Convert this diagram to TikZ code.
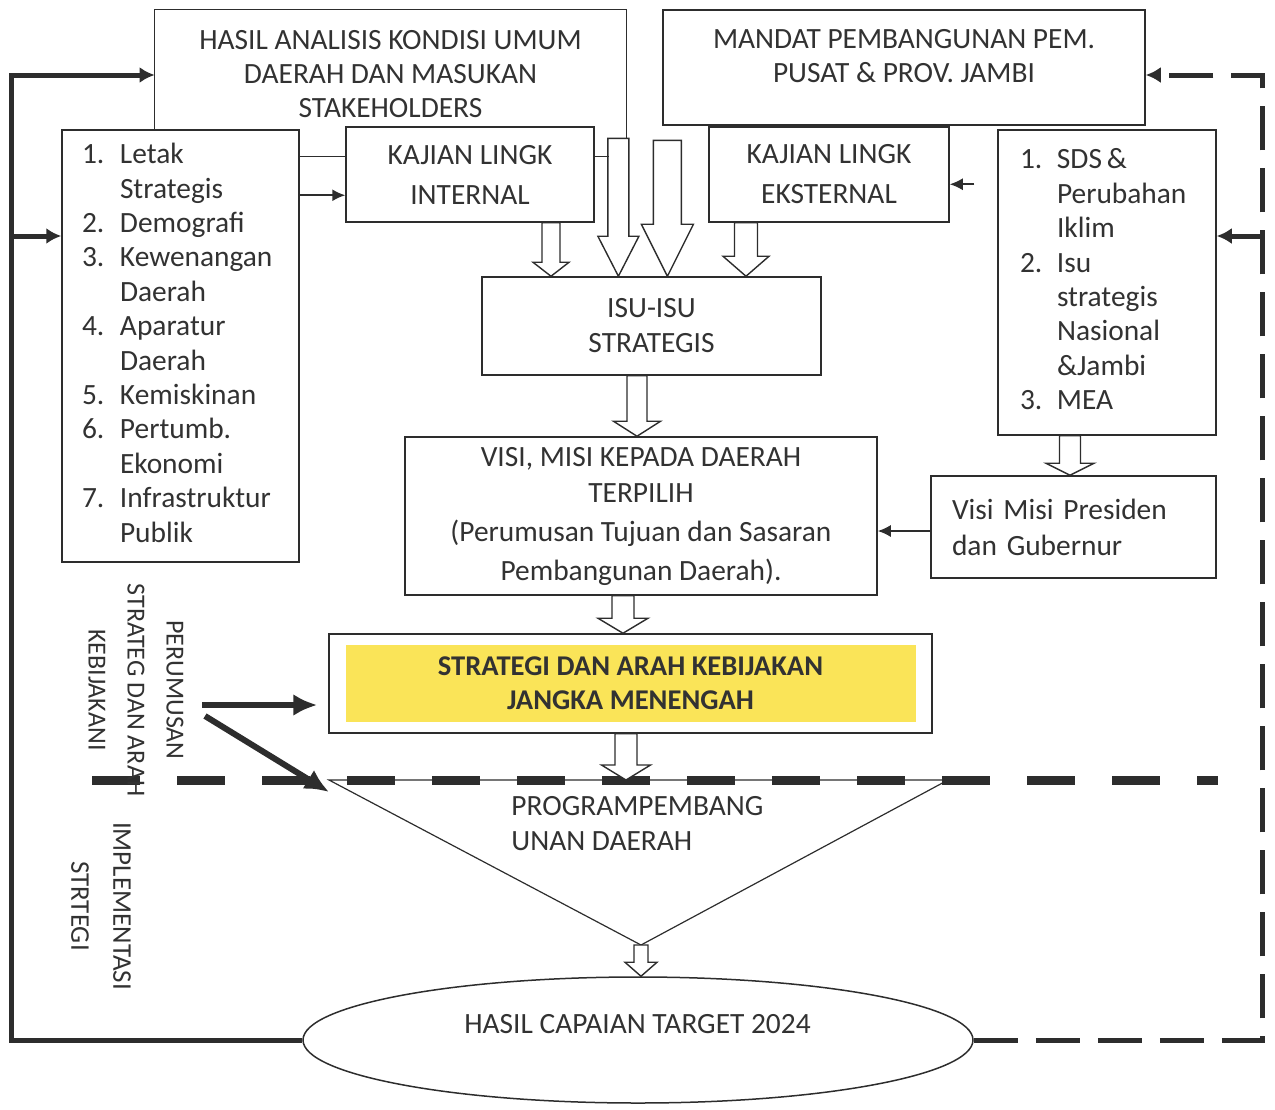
\documentclass[tikz,border=0pt]{standalone}
\usepackage{fontspec}
\setmainfont{Carlito}
\usepackage{xcolor}
\usetikzlibrary{shapes, arrows.meta, positioning, calc}

\definecolor{kuning}{RGB}{250,228,88}
\definecolor{garis}{RGB}{45,45,45}
\definecolor{teks}{RGB}{50,50,50}

\tikzset{
  kotak/.style={draw=garis, line width=0.75pt, fill=white, inner sep=0pt, align=center},
  blok/.style={draw=garis, line width=0.7pt, fill=white, line join=miter},
  tipis/.style={draw=garis, line width=0.8pt, -{Latex[length=6.5pt,width=6pt]}},
  balikkiri/.style={draw=garis, line width=2.5pt, -{Latex[length=7.5pt,width=8pt]}},
  balikkanan/.style={balikkiri, dash pattern=on 22pt off 9pt},
  tebal/.style={draw=garis, line width=3pt, -{Latex[length=12pt,width=11pt]}},
  pisah/.style={draw=garis, line width=4.5pt, dash pattern=on 24pt off 18.5pt},
}

% panah blok putih: awal, ujung, setengah batang, setengah kepala, panjang kepala
\newcommand{\panah}[5]{%
  \path #1 coordinate (pa) #2 coordinate (pb);
  \draw[blok] ($(pa)+(-#3,0)$) -- ($(pa)+(#3,0)$) -- ($(pb)+(#3,#5)$)
    -- ($(pb)+(#4,#5)$) -- (pb) -- ($(pb)+(-#4,#5)$) -- ($(pb)+(-#3,#5)$) -- cycle;}

\begin{document}
\begin{tikzpicture}[x=0.5pt, y=-0.5pt, font=\fontsize{14.7}{17}\selectfont, text=teks]
    \useasboundingbox (0,0) rectangle (1275,1109);

    % garis pemisah perumusan / implementasi
    \coordinate (gs1) at (92,780);
    \coordinate (gs2) at (1218,780);
    \draw[pisah] (gs1) -- (gs2);

    % kotak atas
    \node[inner sep=0pt, minimum width=235.5pt, minimum height=64pt, align=center] (hasil) at (390.5,74)
        {HASIL ANALISIS KONDISI UMUM\\DAERAH DAN MASUKAN\\STAKEHOLDERS};
    \draw[draw=garis, line width=0.75pt] (hasil.south west) -- (hasil.north west) -- (hasil.north east) -- (hasil.south east);

    \node[kotak, minimum width=241pt, minimum height=57.5pt] (mandat) at (904,67.5) {};
    \node[align=center] (mandattxt) at (904,56.5) {MANDAT PEMBANGUNAN PEM.\\PUSAT \& PROV. JAMBI};

    \node[kotak, minimum width=124pt, minimum height=47.5pt] (internal) at (470,174.5)
        {KAJIAN LINGK\\[3pt]INTERNAL};
    \node[kotak, minimum width=120pt, minimum height=47.5pt] (eksternal) at (829,174.5)
        {KAJIAN LINGK\\[3pt]EKSTERNAL};

    \node[kotak, inner xsep=10pt, text width=98.5pt, minimum height=216pt, align=left,
          font=\fontsize{14.7}{17.2}\selectfont] (faktor) at (180.5,346) {%
        \begin{tabular}{@{}p{19pt}@{}l@{}}
        1. & Letak\\ & Strategis\\
        2. & Demografi\\
        3. & Kewenangan\\ & Daerah\\
        4. & Aparatur\\ & Daerah\\
        5. & Kemiskinan\\
        6. & Pertumb.\\ & Ekonomi\\
        7. & Infrastruktur\\ & Publik
        \end{tabular}};

    \node[kotak, inner xsep=11pt, text width=87pt, minimum height=152.5pt, align=left,
          font=\fontsize{14.7}{17.2}\selectfont] (isunas) at (1107,282.5) {%
        \begin{tabular}{@{}p{18.5pt}@{}l@{}}
        1. & SDS\,\&\\ & Perubahan\\ & Iklim\\
        2. & Isu\\ & strategis\\ & Nasional\\ & \&Jambi\\
        3. & MEA
        \end{tabular}};

    \node[kotak, minimum width=169.5pt, minimum height=49pt, font=\fontsize{14.7}{17.5}\selectfont] (isu) at (651.5,326)
        {ISU-ISU\\STRATEGIS};

    \node[kotak, minimum width=236pt, minimum height=79pt] (visi) at (641,516)
        {VISI, MISI KEPADA DAERAH\\[1pt]TERPILIH\\[2.5pt](Perumusan Tujuan dan Sasaran\\[2.5pt]Pembangunan Daerah).};

    \node[kotak, inner xsep=10.5pt, text width=121.5pt, minimum height=51pt, align=left] (presiden) at (1073.5,527)
        {Visi Misi Presiden\\[1pt]dan Gubernur};

    \node[kotak, minimum width=301.5pt, minimum height=49.5pt] (strategi) at (630.5,683.5) {};
    \node[fill=kuning, inner sep=0pt, minimum width=285pt, minimum height=38.5pt, align=center,
          font=\fontsize{14.3}{17}\selectfont\bfseries] (strategitxt) at (strategi.center)
        {STRATEGI DAN ARAH KEBIJAKAN\\JANGKA MENENGAH};

    % segitiga program
    \coordinate (tl) at (329,780);
    \coordinate (tr) at (948,780);
    \coordinate (tb) at (641,945);
    \draw[draw=garis, line width=0.6pt] (tl) -- (tr) -- (tb) -- cycle;
    \node[anchor=west, align=left, inner sep=0pt, font=\fontsize{14.7}{17.5}\selectfont] (program) at (511,823.5)
        {PROGRAMPEMBANG\\UNAN DAERAH};

    \node[ellipse, draw=garis, line width=0.75pt, minimum width=335pt, minimum height=63pt] (capaian) at (638,1040) {};
    \node (capaiantxt) at (637.5,1024) {HASIL CAPAIAN TARGET 2024};

    % teks samping
    \node[rotate=-90, align=center, font=\fontsize{13}{19.5}\selectfont] (perumusan) at (136,690)
        {PERUMUSAN\\STRATEG DAN ARAH\\KEBIJAKANI};
    \node[rotate=-90, align=center, font=\fontsize{13.5}{21}\selectfont] (implementasi) at (101,906)
        {IMPLEMENTASI\\STRTEGI};

    % panah blok
    \panah{([xshift=40.5pt]internal.south)}{(pa |- isu.north)}{4.5pt}{9pt}{7pt}
    \panah{([xshift=-4pt]hasil.south east)}{(pa |- isu.north)}{5.25pt}{10.25pt}{20pt}
    \panah{([xshift=20.5pt,yshift=-1pt]hasil.south east)}{(pa |- isu.north)}{7pt}{13pt}{26pt}
    \panah{([xshift=-41.5pt]eksternal.south)}{(pa |- isu.north)}{5.75pt}{11.5pt}{10pt}
    \panah{([xshift=-7.25pt]isu.south)}{(pa |- visi.north)}{5pt}{11.75pt}{7.5pt}
    \panah{([xshift=-18.5pt]isunas.south)}{(pa |- presiden.north)}{5.25pt}{12pt}{6pt}
    \panah{([xshift=-9pt]visi.south)}{(pa |- strategi.north)}{5.5pt}{12.5pt}{7.5pt}
    \panah{([xshift=-2.25pt]strategi.south)}{(pa |- tl)}{5.5pt}{12.25pt}{7.5pt}
    \panah{(tb)}{(pa |- capaian.north)}{3.5pt}{8pt}{7pt}

    % garis penghubung
    \coordinate (f1) at ([yshift=-13.5pt]faktor.north east);
    \coordinate (f2) at ([yshift=-33pt]faktor.north east);
    \draw[draw=garis, line width=0.75pt] (f1) -- (f1 -| internal.west);
    \draw[tipis] (f2) -- (f2 -| internal.west);
    \coordinate (i1) at (internal.east |- f1);
    \draw[draw=garis, line width=0.75pt] (i1) -- ++(14,0);
    \coordinate (e1) at ([yshift=-27.5pt]isunas.north west);
    \draw[tipis] ([xshift=-11.5pt]e1) -- (e1 -| eksternal.east);
    \coordinate (v1) at ([yshift=-2pt]presiden.west);
    \draw[tipis] (v1) -- (v1 -| visi.east);

    % umpan balik
    \coordinate (kiri) at (11,75);
    \coordinate (kiri2) at (11,236);
    \draw[balikkiri] (capaian.west) -| (kiri) -- (kiri -| hasil.west);
    \draw[balikkiri] (kiri2) -- (kiri2 -| faktor.west);
    \coordinate (kanan) at (1262,75);
    \coordinate (kanan2) at (1262,236);
    \draw[balikkanan] (capaian.east) -| (kanan) -- (kanan -| mandat.east);
    \draw[balikkiri] (kanan2) -- (kanan2 -| isunas.east);

    % panah perumusan
    \coordinate (p1) at (202,705);
    \coordinate (p2) at (205,716);
    \draw[tebal, shorten >=5.5pt] (p1) -- (p1 -| strategi.west);
    \draw[tebal] (p2) -- ([yshift=-6pt]tl);
\end{tikzpicture}
\end{document}
